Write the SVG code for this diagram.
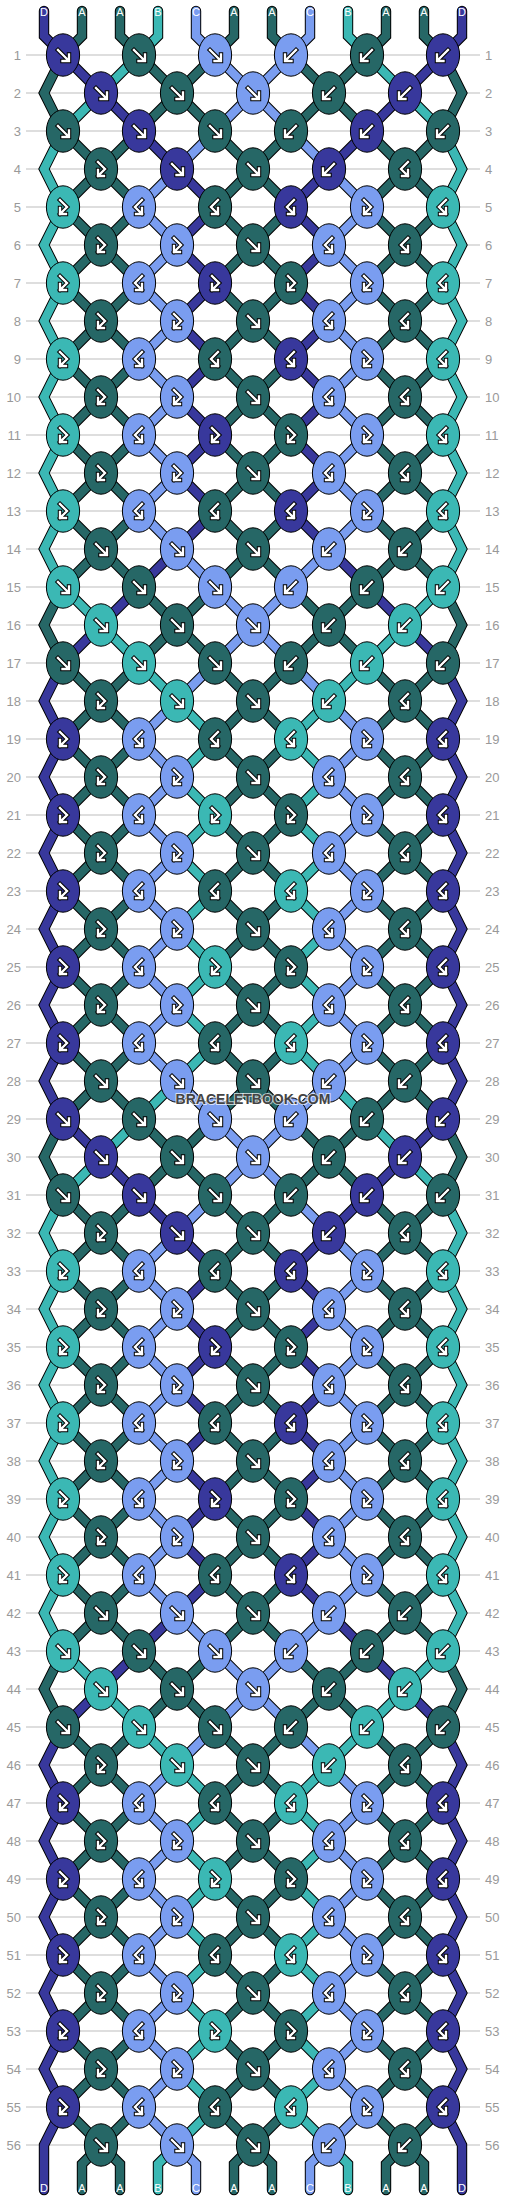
<svg xmlns="http://www.w3.org/2000/svg" width="506" height="2200" viewBox="0 0 506 2200">
<style>
.d{fill:#38389c}.a{fill:#266766}.b{fill:#3bb8b4}.c{fill:#7a9df0}
.sd{stroke:#38389c}.sa{stroke:#266766}.sb{stroke:#3bb8b4}.sc{stroke:#7a9df0}
ellipse{stroke:#000;stroke-width:1}
.ao{fill:none;stroke:#000;stroke-width:4.4;stroke-linecap:square}
.ai{fill:none;stroke:#fff;stroke-width:2.4;stroke-linecap:square}
.rl text{font-family:"Liberation Sans",Arial,sans-serif;font-size:13px;fill:#999}
.lb text{font-family:"Liberation Sans",Arial,sans-serif;font-size:11px;fill:#fff;text-anchor:middle}
</style>
<defs>
<g id="F"><ellipse rx="16.6" ry="21.2"/><path class="ao" d="M-5-5L5 5M-.5 6H6V-.5"/><path class="ai" d="M-5-5L5 5M-.5 6H6V-.5"/></g>
<g id="B"><ellipse rx="16.6" ry="21.2"/><path class="ao" d="M5-5L-5 5M.5 6H-6V-.5"/><path class="ai" d="M5-5L-5 5M.5 6H-6V-.5"/></g>
<g id="FB"><ellipse rx="16.6" ry="21.2"/><path class="ao" d="M-3-7L4 0-3 7M3 7H-3V1"/><path class="ai" d="M-3-7L4 0-3 7M3 7H-3V1"/></g>
<g id="BF"><ellipse rx="16.6" ry="21.2"/><path class="ao" d="M3-7L-4 0 3 7M-3 7H3V1"/><path class="ai" d="M3-7L-4 0 3 7M-3 7H3V1"/></g>
<path id="u0" d="M44 11V36l19 19 38 38 38 38 38 38 38 38-38 38 38 38-38 38 38 38-38 38 38 38-38 38 38 38-38 38-38 38-38 38-38 38-19 38 19 38-19 38 19 38-19 38 19 38-19 38 19 38-19 38 19 38-19 38 19 38"/>
<path id="u1" d="M82 11V36l-19 19-19 38 19 38 38 38-38 38 38 38-38 38 38 38-38 38 38 38-38 38 38 38-38 38 38 38 38 38 38 38 38 38 38 38 38 38-38 38-38 38 38 38 38 38-38 38-38 38 38 38 38 38-38 38-38 38"/>
<path id="u2" d="M120 11V36l19 19 38 38 38 38 38 38 38 38-38 38-38 38 38 38 38 38-38 38-38 38 38 38 38 38-38 38-38 38-38 38-38 38-38 38 38 38-38 38 38 38-38 38 38 38-38 38 38 38-38 38 38 38-38 38-38 38"/>
<path id="u3" d="M158 11V36l-19 19-38 38-38 38-19 38 19 38-19 38 19 38-19 38 19 38-19 38 19 38-19 38 19 38-19 38 19 38 38 38 38 38 38 38 38 38-38 38 38 38-38 38 38 38-38 38 38 38-38 38 38 38-38 38-38 38"/>
<path id="u4" d="M196 11V36l19 19 38 38 38 38 38 38 38 38-38 38 38 38-38 38 38 38-38 38 38 38-38 38 38 38-38 38-38 38-38 38-38 38-38 38-38 38 38 38-38 38 38 38-38 38 38 38-38 38 38 38-38 38 38 38 38 38"/>
<path id="u5" d="M234 11V36l-19 19-38 38-38 38-38 38 38 38-38 38 38 38-38 38 38 38-38 38 38 38-38 38 38 38-38 38-38 38-19 38 19 38 38 38-38 38 38 38-38 38 38 38-38 38 38 38-38 38 38 38-38 38 38 38 38 38"/>
<path id="v0" d="M63 1119l38 38 38 38 38 38 38 38-38 38 38 38-38 38 38 38-38 38 38 38-38 38 38 38-38 38-38 38-38 38-38 38-19 38 19 38-19 38 19 38-19 38 19 38-19 38 19 38-19 38 19 38-19 38V2190"/>
<path id="v1" d="M63 1119l-19 38 19 38 38 38-38 38 38 38-38 38 38 38-38 38 38 38-38 38 38 38-38 38 38 38 38 38 38 38 38 38 38 38 38 38-38 38-38 38 38 38 38 38-38 38-38 38 38 38 38 38-38 38-19 19V2190"/>
<path id="v2" d="M139 1119l38 38 38 38 38 38 38 38-38 38-38 38 38 38 38 38-38 38-38 38 38 38 38 38-38 38-38 38-38 38-38 38-38 38 38 38-38 38 38 38-38 38 38 38-38 38 38 38-38 38 38 38-38 38-19 19V2190"/>
<path id="v3" d="M139 1119l-38 38-38 38-19 38 19 38-19 38 19 38-19 38 19 38-19 38 19 38-19 38 19 38-19 38 19 38 38 38 38 38 38 38 38 38-38 38 38 38-38 38 38 38-38 38 38 38-38 38 38 38-38 38-19 19V2190"/>
<path id="v4" d="M215 1119l38 38 38 38 38 38 38 38-38 38 38 38-38 38 38 38-38 38 38 38-38 38 38 38-38 38-38 38-38 38-38 38-38 38-38 38 38 38-38 38 38 38-38 38 38 38-38 38 38 38-38 38 38 38 19 19V2190"/>
<path id="v5" d="M215 1119l-38 38-38 38-38 38 38 38-38 38 38 38-38 38 38 38-38 38 38 38-38 38 38 38-38 38-38 38-19 38 19 38 38 38-38 38 38 38-38 38 38 38-38 38 38 38-38 38 38 38-38 38 38 38 19 19V2190"/>
</defs>
<rect width="506" height="2200" fill="#fff"/>
<path id="grid" fill="none" stroke="#bdbdbd" stroke-width="1" d="M26 55H480M26 93H480M26 131H480M26 169H480M26 207H480M26 245H480M26 283H480M26 321H480M26 359H480M26 397H480M26 435H480M26 473H480M26 511H480M26 549H480M26 587H480M26 625H480M26 663H480M26 701H480M26 739H480M26 777H480M26 815H480M26 853H480M26 891H480M26 929H480M26 967H480M26 1005H480M26 1043H480M26 1081H480M26 1119H480M26 1157H480M26 1195H480M26 1233H480M26 1271H480M26 1309H480M26 1347H480M26 1385H480M26 1423H480M26 1461H480M26 1499H480M26 1537H480M26 1575H480M26 1613H480M26 1651H480M26 1689H480M26 1727H480M26 1765H480M26 1803H480M26 1841H480M26 1879H480M26 1917H480M26 1955H480M26 1993H480M26 2031H480M26 2069H480M26 2107H480M26 2145H480"/>
<g class="rl" id="rownums">
<g text-anchor="end">
<text x="21" y="59.5">1</text><text x="21" y="97.5">2</text><text x="21" y="135.5">3</text><text x="21" y="173.5">4</text><text x="21" y="211.5">5</text><text x="21" y="249.5">6</text><text x="21" y="287.5">7</text><text x="21" y="325.5">8</text><text x="21" y="363.5">9</text><text x="21" y="401.5">10</text><text x="21" y="439.5">11</text><text x="21" y="477.5">12</text><text x="21" y="515.5">13</text><text x="21" y="553.5">14</text><text x="21" y="591.5">15</text><text x="21" y="629.5">16</text><text x="21" y="667.5">17</text><text x="21" y="705.5">18</text><text x="21" y="743.5">19</text><text x="21" y="781.5">20</text><text x="21" y="819.5">21</text><text x="21" y="857.5">22</text><text x="21" y="895.5">23</text><text x="21" y="933.5">24</text><text x="21" y="971.5">25</text><text x="21" y="1009.5">26</text><text x="21" y="1047.5">27</text><text x="21" y="1085.5">28</text><text x="21" y="1123.5">29</text><text x="21" y="1161.5">30</text><text x="21" y="1199.5">31</text><text x="21" y="1237.5">32</text><text x="21" y="1275.5">33</text><text x="21" y="1313.5">34</text><text x="21" y="1351.5">35</text><text x="21" y="1389.5">36</text><text x="21" y="1427.5">37</text><text x="21" y="1465.5">38</text><text x="21" y="1503.5">39</text><text x="21" y="1541.5">40</text><text x="21" y="1579.5">41</text><text x="21" y="1617.5">42</text><text x="21" y="1655.5">43</text><text x="21" y="1693.5">44</text><text x="21" y="1731.5">45</text><text x="21" y="1769.5">46</text><text x="21" y="1807.5">47</text><text x="21" y="1845.5">48</text><text x="21" y="1883.5">49</text><text x="21" y="1921.5">50</text><text x="21" y="1959.5">51</text><text x="21" y="1997.5">52</text><text x="21" y="2035.5">53</text><text x="21" y="2073.5">54</text><text x="21" y="2111.5">55</text><text x="21" y="2149.5">56</text>
</g>
<g>
<text x="485" y="59.5">1</text><text x="485" y="97.5">2</text><text x="485" y="135.5">3</text><text x="485" y="173.5">4</text><text x="485" y="211.5">5</text><text x="485" y="249.5">6</text><text x="485" y="287.5">7</text><text x="485" y="325.5">8</text><text x="485" y="363.5">9</text><text x="485" y="401.5">10</text><text x="485" y="439.5">11</text><text x="485" y="477.5">12</text><text x="485" y="515.5">13</text><text x="485" y="553.5">14</text><text x="485" y="591.5">15</text><text x="485" y="629.5">16</text><text x="485" y="667.5">17</text><text x="485" y="705.5">18</text><text x="485" y="743.5">19</text><text x="485" y="781.5">20</text><text x="485" y="819.5">21</text><text x="485" y="857.5">22</text><text x="485" y="895.5">23</text><text x="485" y="933.5">24</text><text x="485" y="971.5">25</text><text x="485" y="1009.5">26</text><text x="485" y="1047.5">27</text><text x="485" y="1085.5">28</text><text x="485" y="1123.5">29</text><text x="485" y="1161.5">30</text><text x="485" y="1199.5">31</text><text x="485" y="1237.5">32</text><text x="485" y="1275.5">33</text><text x="485" y="1313.5">34</text><text x="485" y="1351.5">35</text><text x="485" y="1389.5">36</text><text x="485" y="1427.5">37</text><text x="485" y="1465.5">38</text><text x="485" y="1503.5">39</text><text x="485" y="1541.5">40</text><text x="485" y="1579.5">41</text><text x="485" y="1617.5">42</text><text x="485" y="1655.5">43</text><text x="485" y="1693.5">44</text><text x="485" y="1731.5">45</text><text x="485" y="1769.5">46</text><text x="485" y="1807.5">47</text><text x="485" y="1845.5">48</text><text x="485" y="1883.5">49</text><text x="485" y="1921.5">50</text><text x="485" y="1959.5">51</text><text x="485" y="1997.5">52</text><text x="485" y="2035.5">53</text><text x="485" y="2073.5">54</text><text x="485" y="2111.5">55</text><text x="485" y="2149.5">56</text>
</g>
</g>
<g id="connectors" fill="none" stroke-linecap="round" stroke-linejoin="miter" stroke-miterlimit="6">
<g stroke="#000" stroke-width="10.4">
<use href="#u0"/><use href="#u1"/><use href="#u2"/><use href="#u3"/><use href="#u4"/><use href="#u5"/>
<use href="#v0"/><use href="#v1"/><use href="#v2"/><use href="#v3"/><use href="#v4"/><use href="#v5"/>
<g transform="matrix(-1 0 0 1 506 0)">
<use href="#u0"/><use href="#u1"/><use href="#u2"/><use href="#u3"/><use href="#u4"/><use href="#u5"/>
<use href="#v0"/><use href="#v1"/><use href="#v2"/><use href="#v3"/><use href="#v4"/><use href="#v5"/>
</g>
</g>
<g stroke-width="8.4">
<use href="#u0" class="sd"/><use href="#u1" class="sa"/><use href="#u2" class="sa"/><use href="#u3" class="sb"/><use href="#u4" class="sc"/><use href="#u5" class="sa"/>
<use href="#v0" class="sd"/><use href="#v1" class="sa"/><use href="#v2" class="sa"/><use href="#v3" class="sb"/><use href="#v4" class="sc"/><use href="#v5" class="sa"/>
<g transform="matrix(-1 0 0 1 506 0)">
<use href="#u0" class="sd"/><use href="#u1" class="sa"/><use href="#u2" class="sa"/><use href="#u3" class="sb"/><use href="#u4" class="sc"/><use href="#u5" class="sa"/>
<use href="#v0" class="sd"/><use href="#v1" class="sa"/><use href="#v2" class="sa"/><use href="#v3" class="sb"/><use href="#v4" class="sc"/><use href="#v5" class="sa"/>
</g>
</g>
</g>
<g class="lb" id="labels">
<text x="44" y="16">D</text><text x="82" y="16">A</text><text x="120" y="16">A</text><text x="158" y="16">B</text><text x="196" y="16">C</text><text x="234" y="16">A</text><text x="272" y="16">A</text><text x="310" y="16">C</text><text x="348" y="16">B</text><text x="386" y="16">A</text><text x="424" y="16">A</text><text x="462" y="16">D</text>
<text x="44" y="2192">D</text><text x="82" y="2192">A</text><text x="120" y="2192">A</text><text x="158" y="2192">B</text><text x="196" y="2192">C</text><text x="234" y="2192">A</text><text x="272" y="2192">A</text><text x="310" y="2192">C</text><text x="348" y="2192">B</text><text x="386" y="2192">A</text><text x="424" y="2192">A</text><text x="462" y="2192">D</text>
</g>
<g id="knots">
<g id="n1-1" class="d"><use href="#F" x="63" y="55"/></g><g id="n1-2" class="a"><use href="#F" x="139" y="55"/></g><g id="n1-3" class="c"><use href="#F" x="215" y="55"/></g><g id="n1-4" class="c"><use href="#B" x="291" y="55"/></g><g id="n1-5" class="a"><use href="#B" x="367" y="55"/></g><g id="n1-6" class="d"><use href="#B" x="443" y="55"/></g>
<g id="n2-1" class="d"><use href="#F" x="101" y="93"/></g><g id="n2-2" class="a"><use href="#F" x="177" y="93"/></g><g id="n2-3" class="c"><use href="#F" x="253" y="93"/></g><g id="n2-4" class="a"><use href="#B" x="329" y="93"/></g><g id="n2-5" class="d"><use href="#B" x="405" y="93"/></g>
<g id="n3-1" class="a"><use href="#F" x="63" y="131"/></g><g id="n3-2" class="d"><use href="#F" x="139" y="131"/></g><g id="n3-3" class="a"><use href="#F" x="215" y="131"/></g><g id="n3-4" class="a"><use href="#B" x="291" y="131"/></g><g id="n3-5" class="d"><use href="#B" x="367" y="131"/></g><g id="n3-6" class="a"><use href="#B" x="443" y="131"/></g>
<g id="n4-1" class="a"><use href="#FB" x="101" y="169"/></g><g id="n4-2" class="d"><use href="#F" x="177" y="169"/></g><g id="n4-3" class="a"><use href="#F" x="253" y="169"/></g><g id="n4-4" class="d"><use href="#B" x="329" y="169"/></g><g id="n4-5" class="a"><use href="#BF" x="405" y="169"/></g>
<g id="n5-1" class="b"><use href="#FB" x="63" y="207"/></g><g id="n5-2" class="c"><use href="#BF" x="139" y="207"/></g><g id="n5-3" class="a"><use href="#BF" x="215" y="207"/></g><g id="n5-4" class="d"><use href="#BF" x="291" y="207"/></g><g id="n5-5" class="c"><use href="#FB" x="367" y="207"/></g><g id="n5-6" class="b"><use href="#BF" x="443" y="207"/></g>
<g id="n6-1" class="a"><use href="#FB" x="101" y="245"/></g><g id="n6-2" class="c"><use href="#FB" x="177" y="245"/></g><g id="n6-3" class="a"><use href="#F" x="253" y="245"/></g><g id="n6-4" class="c"><use href="#BF" x="329" y="245"/></g><g id="n6-5" class="a"><use href="#BF" x="405" y="245"/></g>
<g id="n7-1" class="b"><use href="#FB" x="63" y="283"/></g><g id="n7-2" class="c"><use href="#BF" x="139" y="283"/></g><g id="n7-3" class="d"><use href="#FB" x="215" y="283"/></g><g id="n7-4" class="a"><use href="#FB" x="291" y="283"/></g><g id="n7-5" class="c"><use href="#FB" x="367" y="283"/></g><g id="n7-6" class="b"><use href="#BF" x="443" y="283"/></g>
<g id="n8-1" class="a"><use href="#FB" x="101" y="321"/></g><g id="n8-2" class="c"><use href="#FB" x="177" y="321"/></g><g id="n8-3" class="a"><use href="#F" x="253" y="321"/></g><g id="n8-4" class="c"><use href="#BF" x="329" y="321"/></g><g id="n8-5" class="a"><use href="#BF" x="405" y="321"/></g>
<g id="n9-1" class="b"><use href="#FB" x="63" y="359"/></g><g id="n9-2" class="c"><use href="#BF" x="139" y="359"/></g><g id="n9-3" class="a"><use href="#BF" x="215" y="359"/></g><g id="n9-4" class="d"><use href="#BF" x="291" y="359"/></g><g id="n9-5" class="c"><use href="#FB" x="367" y="359"/></g><g id="n9-6" class="b"><use href="#BF" x="443" y="359"/></g>
<g id="n10-1" class="a"><use href="#FB" x="101" y="397"/></g><g id="n10-2" class="c"><use href="#FB" x="177" y="397"/></g><g id="n10-3" class="a"><use href="#F" x="253" y="397"/></g><g id="n10-4" class="c"><use href="#BF" x="329" y="397"/></g><g id="n10-5" class="a"><use href="#BF" x="405" y="397"/></g>
<g id="n11-1" class="b"><use href="#FB" x="63" y="435"/></g><g id="n11-2" class="c"><use href="#BF" x="139" y="435"/></g><g id="n11-3" class="d"><use href="#FB" x="215" y="435"/></g><g id="n11-4" class="a"><use href="#FB" x="291" y="435"/></g><g id="n11-5" class="c"><use href="#FB" x="367" y="435"/></g><g id="n11-6" class="b"><use href="#BF" x="443" y="435"/></g>
<g id="n12-1" class="a"><use href="#FB" x="101" y="473"/></g><g id="n12-2" class="c"><use href="#FB" x="177" y="473"/></g><g id="n12-3" class="a"><use href="#F" x="253" y="473"/></g><g id="n12-4" class="c"><use href="#BF" x="329" y="473"/></g><g id="n12-5" class="a"><use href="#BF" x="405" y="473"/></g>
<g id="n13-1" class="b"><use href="#FB" x="63" y="511"/></g><g id="n13-2" class="c"><use href="#BF" x="139" y="511"/></g><g id="n13-3" class="a"><use href="#BF" x="215" y="511"/></g><g id="n13-4" class="d"><use href="#BF" x="291" y="511"/></g><g id="n13-5" class="c"><use href="#FB" x="367" y="511"/></g><g id="n13-6" class="b"><use href="#BF" x="443" y="511"/></g>
<g id="n14-1" class="a"><use href="#F" x="101" y="549"/></g><g id="n14-2" class="c"><use href="#F" x="177" y="549"/></g><g id="n14-3" class="a"><use href="#F" x="253" y="549"/></g><g id="n14-4" class="c"><use href="#B" x="329" y="549"/></g><g id="n14-5" class="a"><use href="#B" x="405" y="549"/></g>
<g id="n15-1" class="b"><use href="#F" x="63" y="587"/></g><g id="n15-2" class="a"><use href="#F" x="139" y="587"/></g><g id="n15-3" class="c"><use href="#F" x="215" y="587"/></g><g id="n15-4" class="c"><use href="#B" x="291" y="587"/></g><g id="n15-5" class="a"><use href="#B" x="367" y="587"/></g><g id="n15-6" class="b"><use href="#B" x="443" y="587"/></g>
<g id="n16-1" class="b"><use href="#F" x="101" y="625"/></g><g id="n16-2" class="a"><use href="#F" x="177" y="625"/></g><g id="n16-3" class="c"><use href="#F" x="253" y="625"/></g><g id="n16-4" class="a"><use href="#B" x="329" y="625"/></g><g id="n16-5" class="b"><use href="#B" x="405" y="625"/></g>
<g id="n17-1" class="a"><use href="#F" x="63" y="663"/></g><g id="n17-2" class="b"><use href="#F" x="139" y="663"/></g><g id="n17-3" class="a"><use href="#F" x="215" y="663"/></g><g id="n17-4" class="a"><use href="#B" x="291" y="663"/></g><g id="n17-5" class="b"><use href="#B" x="367" y="663"/></g><g id="n17-6" class="a"><use href="#B" x="443" y="663"/></g>
<g id="n18-1" class="a"><use href="#FB" x="101" y="701"/></g><g id="n18-2" class="b"><use href="#F" x="177" y="701"/></g><g id="n18-3" class="a"><use href="#F" x="253" y="701"/></g><g id="n18-4" class="b"><use href="#B" x="329" y="701"/></g><g id="n18-5" class="a"><use href="#BF" x="405" y="701"/></g>
<g id="n19-1" class="d"><use href="#FB" x="63" y="739"/></g><g id="n19-2" class="c"><use href="#BF" x="139" y="739"/></g><g id="n19-3" class="a"><use href="#BF" x="215" y="739"/></g><g id="n19-4" class="b"><use href="#BF" x="291" y="739"/></g><g id="n19-5" class="c"><use href="#FB" x="367" y="739"/></g><g id="n19-6" class="d"><use href="#BF" x="443" y="739"/></g>
<g id="n20-1" class="a"><use href="#FB" x="101" y="777"/></g><g id="n20-2" class="c"><use href="#FB" x="177" y="777"/></g><g id="n20-3" class="a"><use href="#F" x="253" y="777"/></g><g id="n20-4" class="c"><use href="#BF" x="329" y="777"/></g><g id="n20-5" class="a"><use href="#BF" x="405" y="777"/></g>
<g id="n21-1" class="d"><use href="#FB" x="63" y="815"/></g><g id="n21-2" class="c"><use href="#BF" x="139" y="815"/></g><g id="n21-3" class="b"><use href="#FB" x="215" y="815"/></g><g id="n21-4" class="a"><use href="#FB" x="291" y="815"/></g><g id="n21-5" class="c"><use href="#FB" x="367" y="815"/></g><g id="n21-6" class="d"><use href="#BF" x="443" y="815"/></g>
<g id="n22-1" class="a"><use href="#FB" x="101" y="853"/></g><g id="n22-2" class="c"><use href="#FB" x="177" y="853"/></g><g id="n22-3" class="a"><use href="#F" x="253" y="853"/></g><g id="n22-4" class="c"><use href="#BF" x="329" y="853"/></g><g id="n22-5" class="a"><use href="#BF" x="405" y="853"/></g>
<g id="n23-1" class="d"><use href="#FB" x="63" y="891"/></g><g id="n23-2" class="c"><use href="#BF" x="139" y="891"/></g><g id="n23-3" class="a"><use href="#BF" x="215" y="891"/></g><g id="n23-4" class="b"><use href="#BF" x="291" y="891"/></g><g id="n23-5" class="c"><use href="#FB" x="367" y="891"/></g><g id="n23-6" class="d"><use href="#BF" x="443" y="891"/></g>
<g id="n24-1" class="a"><use href="#FB" x="101" y="929"/></g><g id="n24-2" class="c"><use href="#FB" x="177" y="929"/></g><g id="n24-3" class="a"><use href="#F" x="253" y="929"/></g><g id="n24-4" class="c"><use href="#BF" x="329" y="929"/></g><g id="n24-5" class="a"><use href="#BF" x="405" y="929"/></g>
<g id="n25-1" class="d"><use href="#FB" x="63" y="967"/></g><g id="n25-2" class="c"><use href="#BF" x="139" y="967"/></g><g id="n25-3" class="b"><use href="#FB" x="215" y="967"/></g><g id="n25-4" class="a"><use href="#FB" x="291" y="967"/></g><g id="n25-5" class="c"><use href="#FB" x="367" y="967"/></g><g id="n25-6" class="d"><use href="#BF" x="443" y="967"/></g>
<g id="n26-1" class="a"><use href="#FB" x="101" y="1005"/></g><g id="n26-2" class="c"><use href="#FB" x="177" y="1005"/></g><g id="n26-3" class="a"><use href="#F" x="253" y="1005"/></g><g id="n26-4" class="c"><use href="#BF" x="329" y="1005"/></g><g id="n26-5" class="a"><use href="#BF" x="405" y="1005"/></g>
<g id="n27-1" class="d"><use href="#FB" x="63" y="1043"/></g><g id="n27-2" class="c"><use href="#BF" x="139" y="1043"/></g><g id="n27-3" class="a"><use href="#BF" x="215" y="1043"/></g><g id="n27-4" class="b"><use href="#BF" x="291" y="1043"/></g><g id="n27-5" class="c"><use href="#FB" x="367" y="1043"/></g><g id="n27-6" class="d"><use href="#BF" x="443" y="1043"/></g>
<g id="n28-1" class="a"><use href="#F" x="101" y="1081"/></g><g id="n28-2" class="c"><use href="#F" x="177" y="1081"/></g><g id="n28-3" class="a"><use href="#F" x="253" y="1081"/></g><g id="n28-4" class="c"><use href="#B" x="329" y="1081"/></g><g id="n28-5" class="a"><use href="#B" x="405" y="1081"/></g>
<g id="n29-1" class="d"><use href="#F" x="63" y="1119"/></g><g id="n29-2" class="a"><use href="#F" x="139" y="1119"/></g><g id="n29-3" class="c"><use href="#F" x="215" y="1119"/></g><g id="n29-4" class="c"><use href="#B" x="291" y="1119"/></g><g id="n29-5" class="a"><use href="#B" x="367" y="1119"/></g><g id="n29-6" class="d"><use href="#B" x="443" y="1119"/></g>
<g id="n30-1" class="d"><use href="#F" x="101" y="1157"/></g><g id="n30-2" class="a"><use href="#F" x="177" y="1157"/></g><g id="n30-3" class="c"><use href="#F" x="253" y="1157"/></g><g id="n30-4" class="a"><use href="#B" x="329" y="1157"/></g><g id="n30-5" class="d"><use href="#B" x="405" y="1157"/></g>
<g id="n31-1" class="a"><use href="#F" x="63" y="1195"/></g><g id="n31-2" class="d"><use href="#F" x="139" y="1195"/></g><g id="n31-3" class="a"><use href="#F" x="215" y="1195"/></g><g id="n31-4" class="a"><use href="#B" x="291" y="1195"/></g><g id="n31-5" class="d"><use href="#B" x="367" y="1195"/></g><g id="n31-6" class="a"><use href="#B" x="443" y="1195"/></g>
<g id="n32-1" class="a"><use href="#FB" x="101" y="1233"/></g><g id="n32-2" class="d"><use href="#F" x="177" y="1233"/></g><g id="n32-3" class="a"><use href="#F" x="253" y="1233"/></g><g id="n32-4" class="d"><use href="#B" x="329" y="1233"/></g><g id="n32-5" class="a"><use href="#BF" x="405" y="1233"/></g>
<g id="n33-1" class="b"><use href="#FB" x="63" y="1271"/></g><g id="n33-2" class="c"><use href="#BF" x="139" y="1271"/></g><g id="n33-3" class="a"><use href="#BF" x="215" y="1271"/></g><g id="n33-4" class="d"><use href="#BF" x="291" y="1271"/></g><g id="n33-5" class="c"><use href="#FB" x="367" y="1271"/></g><g id="n33-6" class="b"><use href="#BF" x="443" y="1271"/></g>
<g id="n34-1" class="a"><use href="#FB" x="101" y="1309"/></g><g id="n34-2" class="c"><use href="#FB" x="177" y="1309"/></g><g id="n34-3" class="a"><use href="#F" x="253" y="1309"/></g><g id="n34-4" class="c"><use href="#BF" x="329" y="1309"/></g><g id="n34-5" class="a"><use href="#BF" x="405" y="1309"/></g>
<g id="n35-1" class="b"><use href="#FB" x="63" y="1347"/></g><g id="n35-2" class="c"><use href="#BF" x="139" y="1347"/></g><g id="n35-3" class="d"><use href="#FB" x="215" y="1347"/></g><g id="n35-4" class="a"><use href="#FB" x="291" y="1347"/></g><g id="n35-5" class="c"><use href="#FB" x="367" y="1347"/></g><g id="n35-6" class="b"><use href="#BF" x="443" y="1347"/></g>
<g id="n36-1" class="a"><use href="#FB" x="101" y="1385"/></g><g id="n36-2" class="c"><use href="#FB" x="177" y="1385"/></g><g id="n36-3" class="a"><use href="#F" x="253" y="1385"/></g><g id="n36-4" class="c"><use href="#BF" x="329" y="1385"/></g><g id="n36-5" class="a"><use href="#BF" x="405" y="1385"/></g>
<g id="n37-1" class="b"><use href="#FB" x="63" y="1423"/></g><g id="n37-2" class="c"><use href="#BF" x="139" y="1423"/></g><g id="n37-3" class="a"><use href="#BF" x="215" y="1423"/></g><g id="n37-4" class="d"><use href="#BF" x="291" y="1423"/></g><g id="n37-5" class="c"><use href="#FB" x="367" y="1423"/></g><g id="n37-6" class="b"><use href="#BF" x="443" y="1423"/></g>
<g id="n38-1" class="a"><use href="#FB" x="101" y="1461"/></g><g id="n38-2" class="c"><use href="#FB" x="177" y="1461"/></g><g id="n38-3" class="a"><use href="#F" x="253" y="1461"/></g><g id="n38-4" class="c"><use href="#BF" x="329" y="1461"/></g><g id="n38-5" class="a"><use href="#BF" x="405" y="1461"/></g>
<g id="n39-1" class="b"><use href="#FB" x="63" y="1499"/></g><g id="n39-2" class="c"><use href="#BF" x="139" y="1499"/></g><g id="n39-3" class="d"><use href="#FB" x="215" y="1499"/></g><g id="n39-4" class="a"><use href="#FB" x="291" y="1499"/></g><g id="n39-5" class="c"><use href="#FB" x="367" y="1499"/></g><g id="n39-6" class="b"><use href="#BF" x="443" y="1499"/></g>
<g id="n40-1" class="a"><use href="#FB" x="101" y="1537"/></g><g id="n40-2" class="c"><use href="#FB" x="177" y="1537"/></g><g id="n40-3" class="a"><use href="#F" x="253" y="1537"/></g><g id="n40-4" class="c"><use href="#BF" x="329" y="1537"/></g><g id="n40-5" class="a"><use href="#BF" x="405" y="1537"/></g>
<g id="n41-1" class="b"><use href="#FB" x="63" y="1575"/></g><g id="n41-2" class="c"><use href="#BF" x="139" y="1575"/></g><g id="n41-3" class="a"><use href="#BF" x="215" y="1575"/></g><g id="n41-4" class="d"><use href="#BF" x="291" y="1575"/></g><g id="n41-5" class="c"><use href="#FB" x="367" y="1575"/></g><g id="n41-6" class="b"><use href="#BF" x="443" y="1575"/></g>
<g id="n42-1" class="a"><use href="#F" x="101" y="1613"/></g><g id="n42-2" class="c"><use href="#F" x="177" y="1613"/></g><g id="n42-3" class="a"><use href="#F" x="253" y="1613"/></g><g id="n42-4" class="c"><use href="#B" x="329" y="1613"/></g><g id="n42-5" class="a"><use href="#B" x="405" y="1613"/></g>
<g id="n43-1" class="b"><use href="#F" x="63" y="1651"/></g><g id="n43-2" class="a"><use href="#F" x="139" y="1651"/></g><g id="n43-3" class="c"><use href="#F" x="215" y="1651"/></g><g id="n43-4" class="c"><use href="#B" x="291" y="1651"/></g><g id="n43-5" class="a"><use href="#B" x="367" y="1651"/></g><g id="n43-6" class="b"><use href="#B" x="443" y="1651"/></g>
<g id="n44-1" class="b"><use href="#F" x="101" y="1689"/></g><g id="n44-2" class="a"><use href="#F" x="177" y="1689"/></g><g id="n44-3" class="c"><use href="#F" x="253" y="1689"/></g><g id="n44-4" class="a"><use href="#B" x="329" y="1689"/></g><g id="n44-5" class="b"><use href="#B" x="405" y="1689"/></g>
<g id="n45-1" class="a"><use href="#F" x="63" y="1727"/></g><g id="n45-2" class="b"><use href="#F" x="139" y="1727"/></g><g id="n45-3" class="a"><use href="#F" x="215" y="1727"/></g><g id="n45-4" class="a"><use href="#B" x="291" y="1727"/></g><g id="n45-5" class="b"><use href="#B" x="367" y="1727"/></g><g id="n45-6" class="a"><use href="#B" x="443" y="1727"/></g>
<g id="n46-1" class="a"><use href="#FB" x="101" y="1765"/></g><g id="n46-2" class="b"><use href="#F" x="177" y="1765"/></g><g id="n46-3" class="a"><use href="#F" x="253" y="1765"/></g><g id="n46-4" class="b"><use href="#B" x="329" y="1765"/></g><g id="n46-5" class="a"><use href="#BF" x="405" y="1765"/></g>
<g id="n47-1" class="d"><use href="#FB" x="63" y="1803"/></g><g id="n47-2" class="c"><use href="#BF" x="139" y="1803"/></g><g id="n47-3" class="a"><use href="#BF" x="215" y="1803"/></g><g id="n47-4" class="b"><use href="#BF" x="291" y="1803"/></g><g id="n47-5" class="c"><use href="#FB" x="367" y="1803"/></g><g id="n47-6" class="d"><use href="#BF" x="443" y="1803"/></g>
<g id="n48-1" class="a"><use href="#FB" x="101" y="1841"/></g><g id="n48-2" class="c"><use href="#FB" x="177" y="1841"/></g><g id="n48-3" class="a"><use href="#F" x="253" y="1841"/></g><g id="n48-4" class="c"><use href="#BF" x="329" y="1841"/></g><g id="n48-5" class="a"><use href="#BF" x="405" y="1841"/></g>
<g id="n49-1" class="d"><use href="#FB" x="63" y="1879"/></g><g id="n49-2" class="c"><use href="#BF" x="139" y="1879"/></g><g id="n49-3" class="b"><use href="#FB" x="215" y="1879"/></g><g id="n49-4" class="a"><use href="#FB" x="291" y="1879"/></g><g id="n49-5" class="c"><use href="#FB" x="367" y="1879"/></g><g id="n49-6" class="d"><use href="#BF" x="443" y="1879"/></g>
<g id="n50-1" class="a"><use href="#FB" x="101" y="1917"/></g><g id="n50-2" class="c"><use href="#FB" x="177" y="1917"/></g><g id="n50-3" class="a"><use href="#F" x="253" y="1917"/></g><g id="n50-4" class="c"><use href="#BF" x="329" y="1917"/></g><g id="n50-5" class="a"><use href="#BF" x="405" y="1917"/></g>
<g id="n51-1" class="d"><use href="#FB" x="63" y="1955"/></g><g id="n51-2" class="c"><use href="#BF" x="139" y="1955"/></g><g id="n51-3" class="a"><use href="#BF" x="215" y="1955"/></g><g id="n51-4" class="b"><use href="#BF" x="291" y="1955"/></g><g id="n51-5" class="c"><use href="#FB" x="367" y="1955"/></g><g id="n51-6" class="d"><use href="#BF" x="443" y="1955"/></g>
<g id="n52-1" class="a"><use href="#FB" x="101" y="1993"/></g><g id="n52-2" class="c"><use href="#FB" x="177" y="1993"/></g><g id="n52-3" class="a"><use href="#F" x="253" y="1993"/></g><g id="n52-4" class="c"><use href="#BF" x="329" y="1993"/></g><g id="n52-5" class="a"><use href="#BF" x="405" y="1993"/></g>
<g id="n53-1" class="d"><use href="#FB" x="63" y="2031"/></g><g id="n53-2" class="c"><use href="#BF" x="139" y="2031"/></g><g id="n53-3" class="b"><use href="#FB" x="215" y="2031"/></g><g id="n53-4" class="a"><use href="#FB" x="291" y="2031"/></g><g id="n53-5" class="c"><use href="#FB" x="367" y="2031"/></g><g id="n53-6" class="d"><use href="#BF" x="443" y="2031"/></g>
<g id="n54-1" class="a"><use href="#FB" x="101" y="2069"/></g><g id="n54-2" class="c"><use href="#FB" x="177" y="2069"/></g><g id="n54-3" class="a"><use href="#F" x="253" y="2069"/></g><g id="n54-4" class="c"><use href="#BF" x="329" y="2069"/></g><g id="n54-5" class="a"><use href="#BF" x="405" y="2069"/></g>
<g id="n55-1" class="d"><use href="#FB" x="63" y="2107"/></g><g id="n55-2" class="c"><use href="#BF" x="139" y="2107"/></g><g id="n55-3" class="a"><use href="#BF" x="215" y="2107"/></g><g id="n55-4" class="b"><use href="#BF" x="291" y="2107"/></g><g id="n55-5" class="c"><use href="#FB" x="367" y="2107"/></g><g id="n55-6" class="d"><use href="#BF" x="443" y="2107"/></g>
<g id="n56-1" class="a"><use href="#F" x="101" y="2145"/></g><g id="n56-2" class="c"><use href="#F" x="177" y="2145"/></g><g id="n56-3" class="a"><use href="#F" x="253" y="2145"/></g><g id="n56-4" class="c"><use href="#B" x="329" y="2145"/></g><g id="n56-5" class="a"><use href="#B" x="405" y="2145"/></g>
</g>
<text id="watermark" x="253" y="1104" text-anchor="middle" font-family="'Liberation Sans',Arial,sans-serif" font-weight="bold" font-size="14" fill="#444" stroke="#fff" stroke-opacity="0.7" stroke-width="2" paint-order="stroke">BRACELETBOOK.COM</text>
</svg>
